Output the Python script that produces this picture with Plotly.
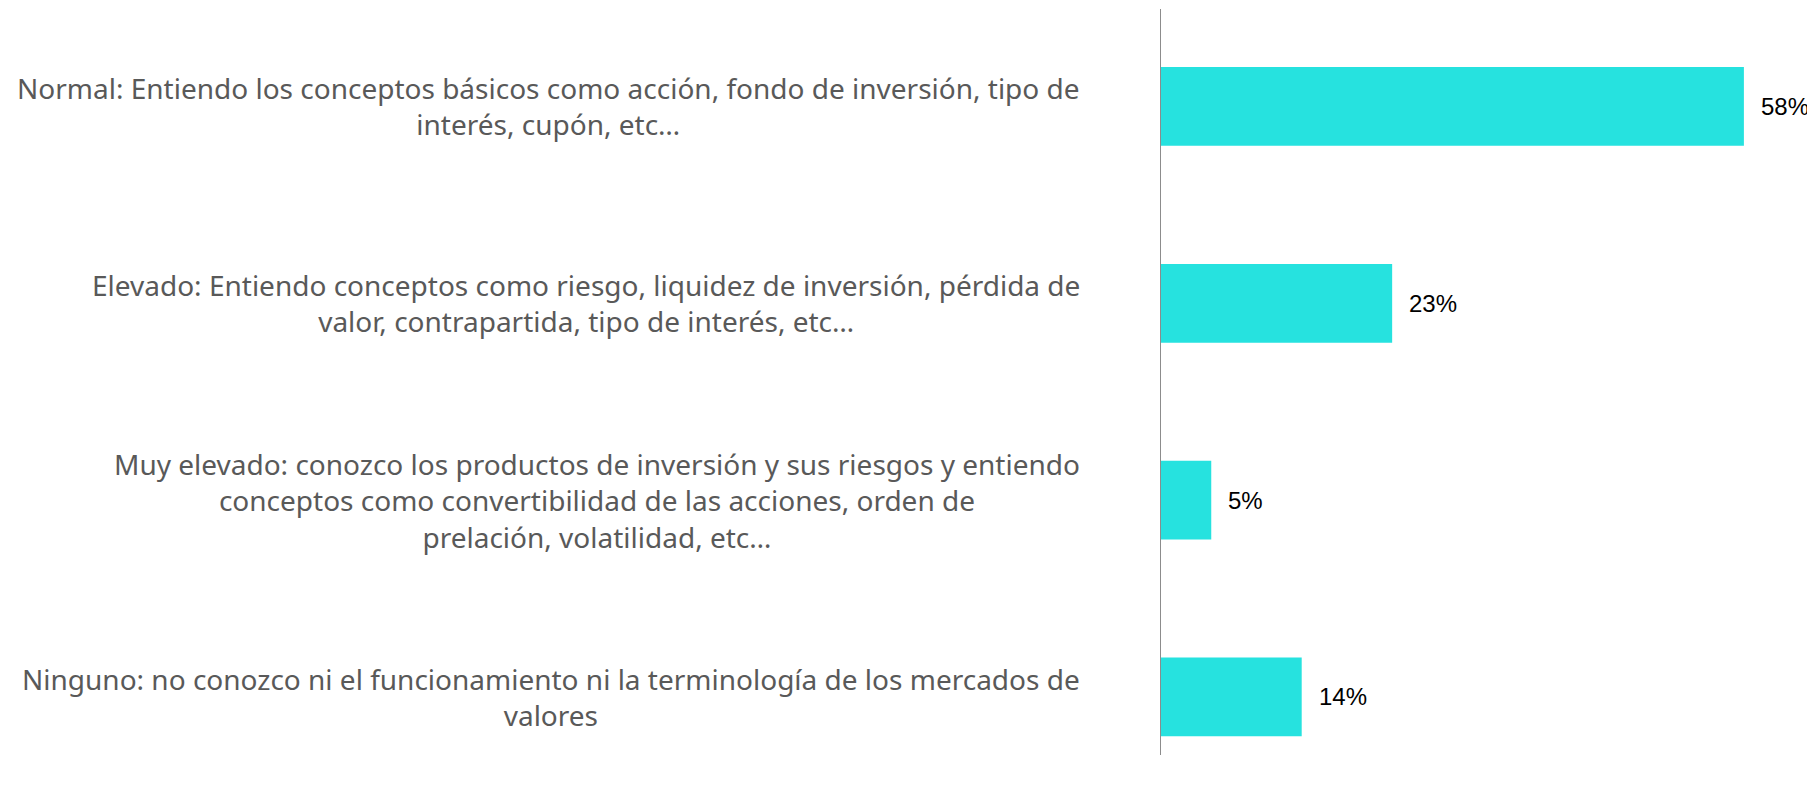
import plotly.graph_objects as go

categories = [
    "Normal: Entiendo los conceptos básicos como acción, fondo de inversión, tipo de<br>interés, cupón, etc…",
    "Elevado: Entiendo conceptos como riesgo, liquidez de inversión, pérdida de<br>valor, contrapartida, tipo de interés, etc…",
    "Muy elevado: conozco los productos de inversión y sus riesgos y entiendo<br>conceptos como convertibilidad de las acciones, orden de<br>prelación, volatilidad, etc…",
    "Ninguno: no conozco ni el funcionamiento ni la terminología de los mercados de<br>valores",
]
values = [58, 23, 5, 14]
ids = list(range(len(categories)))

fig = go.Figure()
fig.add_trace(go.Bar(
    x=values, y=ids, orientation="h",
    marker=dict(color="#26E2DF", line=dict(width=0)),
    width=0.4, hoverinfo="skip",
))

annotations = []
for i, (c, v) in enumerate(zip(categories, values)):
    annotations.append(dict(
        x=0, y=i, xref="paper", yref="y", text=c, showarrow=False,
        xanchor="right", yanchor="middle", align="center", xshift=-79,
        font=dict(family="Noto Sans", size=28, color="#595959"),
    ))
    annotations.append(dict(
        x=v, y=i, xref="x", yref="y", text=f"{v}%", showarrow=False,
        xanchor="left", yanchor="middle", xshift=15,
        font=dict(family="Liberation Sans", size=24, color="#000000"),
    ))

fig.update_layout(
    width=1807, height=781,
    margin=dict(l=1153, r=14, t=1, b=34),
    plot_bgcolor="white", paper_bgcolor="white",
    showlegend=False,
    annotations=annotations,
    xaxis=dict(range=[0, 640 / 10.05], showgrid=False, zeroline=False,
               showticklabels=False, showline=False),
    yaxis=dict(range=[3.295, -0.495], showgrid=False, zeroline=False,
               showticklabels=False, showline=True, linecolor="#8c8c8c",
               linewidth=1),
)

fig.write_html("out.html")
